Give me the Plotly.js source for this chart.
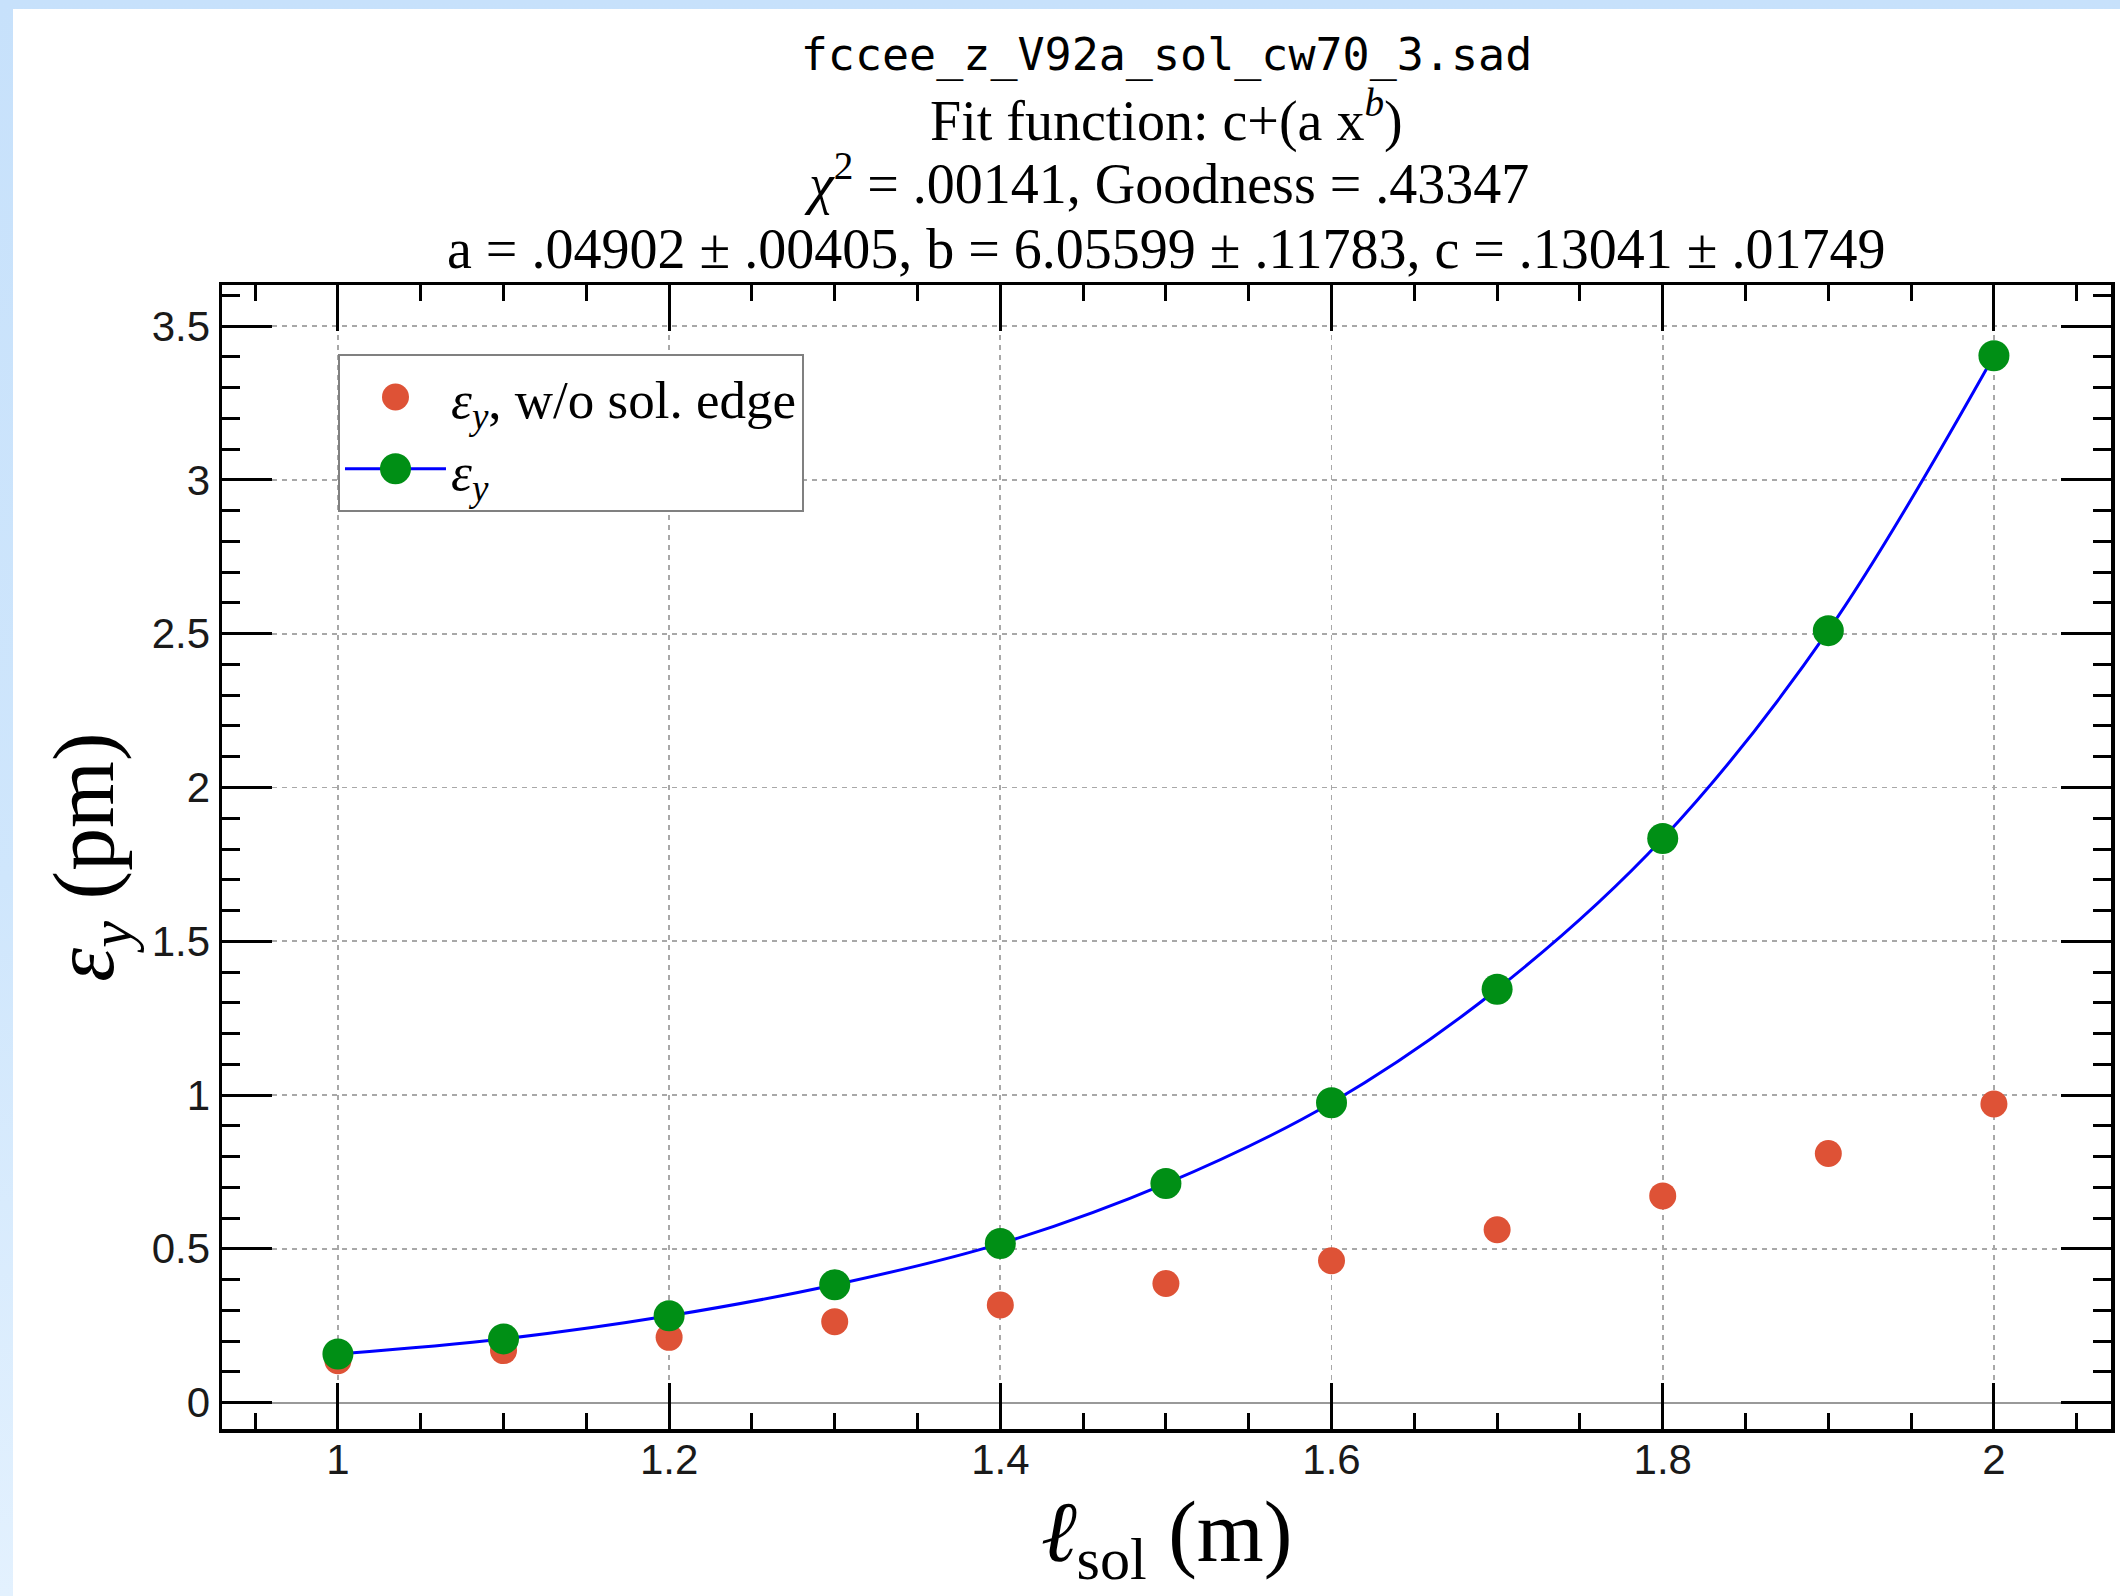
<!DOCTYPE html>
<html>
<head>
<meta charset="utf-8">
<script src="https://cdn.plot.ly/plotly-3.0.1.min.js"></script>
<style>
  html, body { margin: 0; padding: 0; width: 2120px; height: 1596px; overflow: hidden;
    background: linear-gradient(180deg, #c7e1fb 0%, #cfe6fc 55%, #e3f1fe 100%); }
  #plot { position: absolute; left: 13px; top: 9px; width: 2107px; height: 1587px; background: #fff; }
</style>
</head>
<body>
<div id="plot"></div>
<script>
// Data
const lsol = [1.0, 1.1, 1.2, 1.3, 1.4, 1.5, 1.6, 1.7, 1.8, 1.9, 2.0];
const epsNoEdge = [0.136, 0.169, 0.212, 0.263, 0.317, 0.387, 0.461, 0.562, 0.672, 0.810, 0.971];
const epsY = [0.158, 0.207, 0.282, 0.383, 0.517, 0.712, 0.975, 1.344, 1.834, 2.510, 3.404];
const seriesNames = ['<i>ε</i><sub><i>y</i></sub>, w/o sol. edge', '<i>ε</i><sub><i>y</i></sub>'];
const titleLines = [
  'fccee_z_V92a_sol_cw70_3.sad',
  'Fit function: c+(a x<sup><i>b</i></sup>)',
  '<i>χ</i><sup>2</sup> = .00141, Goodness = .43347',
  'a = .04902 ± .00405, b = 6.05599 ± .11783, c = .13041 ± .01749'
];
const xTitle = '<i>ℓ</i><sub>sol</sub> (m)';
const yTitle = '<i>ε</i><sub><i>y</i></sub> (pm)';

const SERIF = '"Liberation Serif", "Times New Roman", Times, serif';
const SANS = '"Liberation Sans", Arial, Helvetica, sans-serif';
const MONO = '"DejaVu Sans Mono", "Liberation Mono", monospace';

const redSize = 27, greenSize = 31;

const traces = [
  {
    x: lsol, y: epsNoEdge, type: 'scatter', mode: 'markers', name: seriesNames[0],
    marker: { color: '#DE5236', size: redSize }
  },
  {
    x: lsol, y: epsY, type: 'scatter', mode: 'lines+markers', name: seriesNames[1],
    line: { color: '#0000FF', width: 3, shape: 'spline', smoothing: 1 },
    marker: { color: '#008F15', size: greenSize }
  }
];

const axisCommon = {
  showline: true, linecolor: '#000', linewidth: 3.5, mirror: 'allticks',
  ticks: 'inside', tickcolor: '#000', tickwidth: 3,
  showgrid: true, gridcolor: '#a8a8a8', gridwidth: 1.8, griddash: '5px,5px',
  tickfont: { family: SANS, size: 42, color: '#1a1a1a' },
  automargin: false
};

const layout = {
  width: 2107, height: 1587,
  paper_bgcolor: '#ffffff', plot_bgcolor: '#ffffff',
  margin: { l: 209, r: 9, t: 276, b: 167, pad: 0 },
  showlegend: true,
  title: {
    text: titleLines[0], font: { family: MONO, size: 45, color: '#000' },
    xref: 'paper', x: 0.5, xanchor: 'center', yref: 'container', y: 0.9717, yanchor: 'middle'
  },
  xaxis: Object.assign({}, axisCommon, {
    range: [0.93, 2.0707], dtick: 0.2, tick0: 0, ticklen: 46, ticklabelstandoff: -9,
    minor: { dtick: 0.05, tick0: 0, ticklen: 16, tickwidth: 3, tickcolor: '#000', ticks: 'inside', showgrid: false },
    zeroline: false,
    title: { text: xTitle, font: { family: SERIF, size: 86, color: '#000' }, standoff: 20 }
  }),
  yaxis: Object.assign({}, axisCommon, {
    range: [-0.086, 3.634], dtick: 0.5, tick0: 0, ticklen: 50,
    minor: { dtick: 0.1, tick0: 0, ticklen: 18, tickwidth: 3, tickcolor: '#000', ticks: 'inside', showgrid: false },
    zeroline: true, zerolinecolor: '#999999', zerolinewidth: 2,
    title: { text: yTitle, font: { family: SERIF, size: 86, color: '#000' }, standoff: 10 }
  }),
  legend: {
    x: 0.0614, y: 0.9397, xanchor: 'left', yanchor: 'top',
    bgcolor: '#ffffff', bordercolor: '#808080', borderwidth: 2,
    font: { family: SERIF, size: 53, color: '#000' },
    itemwidth: 101
  },
  annotations: [1, 2, 3].map((i, k) => ({
    text: titleLines[i], xref: 'paper', yref: 'paper', x: 0.5, xanchor: 'center',
    y: [1.1469, 1.0918, 1.0314][k], yanchor: 'middle', showarrow: false,
    font: { family: SERIF, size: 56, color: '#000' }
  }))
};

Plotly.newPlot('plot', traces, layout, { staticPlot: true, displayModeBar: false }).then(gd => {
  // Plotly caps legend marker size at 16px; scale legend symbols up to match the trace markers
  const groups = gd.querySelectorAll('.legend .traces');
  const sizes = [redSize, greenSize];
  groups.forEach((g, i) => {
    g.querySelectorAll('.legendpoints path.scatterpts').forEach(p => {
      const t = p.getAttribute('transform') || '';
      p.setAttribute('transform', t + ' scale(' + (sizes[i] / 16) + ')');
    });
  });
});
</script>
</body>
</html>
